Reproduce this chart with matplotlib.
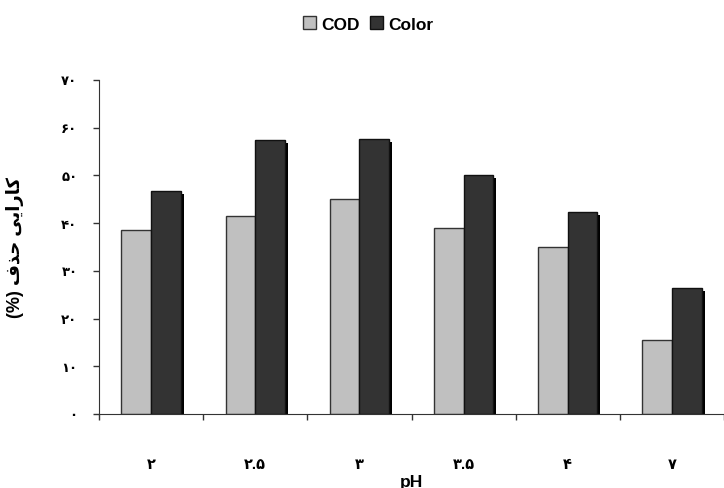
import matplotlib
matplotlib.use("Agg")
import matplotlib.pyplot as plt
import numpy as np

# داده‌ها
ph_labels = ['۲', '۲.۵', '۳', '۳.۵', '۴', '۷']
cod_removal = [38.6, 41.5, 45.0, 39.0, 35.0, 15.5]
color_removal = [46.8, 57.4, 57.6, 50.1, 42.3, 26.4]
y_ticks = [0, 10, 20, 30, 40, 50, 60, 70]
y_tick_labels = ['۰', '۱۰', '۲۰', '۳۰', '۴۰', '۵۰', '۶۰', '۷۰']
series_names = ['COD', 'Color']

FONTS = ['Liberation Sans', 'DejaVu Sans']
plt.rcParams['font.family'] = FONTS
plt.rcParams['font.weight'] = 'bold'

# متن فارسی به شکل نمایشی (چپ به راست)
y_label = '(%) ' + '\ufed1\ufeac\ufea3' + ' ' + '\ufbfd\ufbfe\ufe8d\ufead\ufe8e\ufb90'


def main():
    fig = plt.figure(figsize=(7.24, 4.89), dpi=100)
    ax = fig.add_axes([99 / 724, 74 / 489, 625 / 724, 334 / 489])

    x = np.arange(len(ph_labels))
    w = 0.285
    dx = 3 / 105.3
    dy = 0.6

    # سایه ستون‌ها
    ax.bar(x + w / 2 + dx, np.array(color_removal) - dy, w, color='black',
           linewidth=0, zorder=1)
    ax.bar(x - w / 2 + dx, np.array(cod_removal) - dy, w, color='black',
           linewidth=0, zorder=1)

    b1 = ax.bar(x - w / 2, cod_removal, w, color='#c0c0c0', edgecolor='#333333',
                linewidth=1.0, zorder=2, label=series_names[0])
    b2 = ax.bar(x + w / 2, color_removal, w, color='#333333', edgecolor='#111111',
                linewidth=1.0, zorder=2, label=series_names[1])

    ax.set_xlim(-0.5, -0.5 + 625 / 105.3)
    ax.set_ylim(0, 70)

    for s in ['top', 'right']:
        ax.spines[s].set_visible(False)
    ax.spines['left'].set_color('#333333')
    ax.spines['bottom'].set_color('#333333')
    ax.spines['left'].set_zorder(3)
    ax.spines['bottom'].set_zorder(3)

    ax.set_yticks(y_ticks)
    ax.set_yticklabels(y_tick_labels, fontsize=9.5, fontweight='bold')
    ax.tick_params(axis='y', length=4.5, width=1, color='#333333', pad=11)

    ax.set_xticks(x)
    ax.set_xticklabels(ph_labels, fontsize=10.5, fontweight='bold')
    ax.set_xticks(np.arange(-0.5, len(ph_labels), 1.0), minor=True)
    ax.tick_params(axis='x', which='major', length=0, pad=31)
    ax.tick_params(axis='x', which='minor', length=4.5, width=1, color='#333333')

    ax.set_xlabel('pH', fontsize=12.5, fontweight='bold')
    ax.xaxis.set_label_coords(0.5, -0.18)
    ax.set_ylabel(y_label, fontsize=13, fontweight='bold')
    ax.yaxis.set_label_coords(-0.12, 0.5)

    fig.legend(handles=[b1, b2], labels=series_names, loc='center',
               bbox_to_anchor=(368 / 724, 1 - 25 / 489), ncol=2, frameon=False,
               fontsize=12.5, handlelength=0.75, handleheight=0.75,
               handletextpad=0.3, columnspacing=0.6)

    fig.savefig('out.png', dpi=100)


if __name__ == "__main__":
    main()
